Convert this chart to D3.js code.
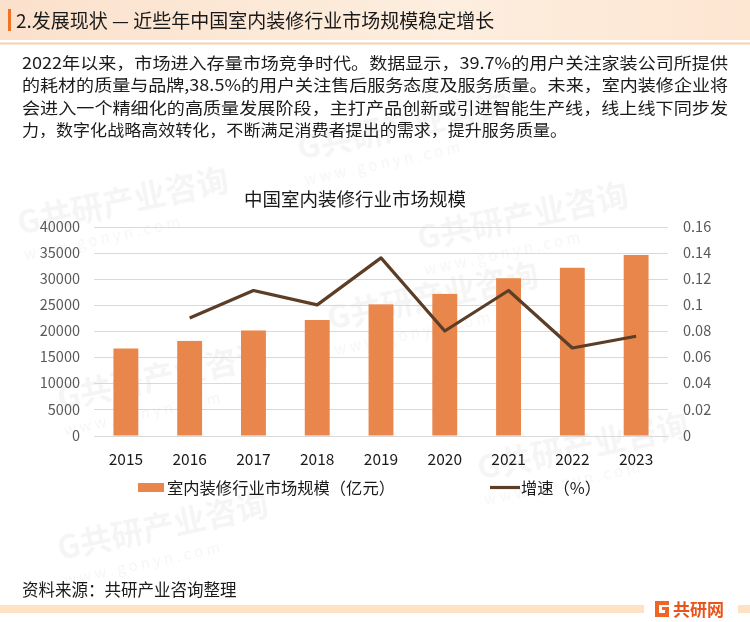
<!DOCTYPE html>
<html><head><meta charset="utf-8">
<script src="https://cdn.jsdelivr.net/npm/d3@7"></script>
<style>
body{margin:0;padding:0;background:#fff;}
svg{display:block;font-family:"Microsoft YaHei","Noto Sans CJK SC",sans-serif;}
</style></head>
<body>
<script>
const years = ["2015","2016","2017","2018","2019","2020","2021","2022","2023"];
const marketSize = [16650, 18100, 20100, 22100, 25100, 27100, 30100, 32100, 34550];
const growth = [null, 0.090, 0.111, 0.100, 0.136, 0.080, 0.111, 0.067, 0.076];
const leftTicks = [0,5000,10000,15000,20000,25000,30000,35000,40000];
const rightTicks = [0,0.02,0.04,0.06,0.08,0.1,0.12,0.14,0.16];
const titleText = "2.发展现状 — 近些年中国室内装修行业市场规模稳定增长";
const paragraph = [
  "2022年以来，市场进入存量市场竞争时代。数据显示，39.7%的用户关注家装公司所提供",
  "的耗材的质量与品牌,38.5%的用户关注售后服务态度及服务质量。未来，室内装修企业将",
  "会进入一个精细化的高质量发展阶段，主打产品创新或引进智能生产线，线上线下同步发",
  "力，数字化战略高效转化，不断满足消费者提出的需求，提升服务质量。"
];
const chartTitle = "中国室内装修行业市场规模";
const legendBar = "室内装修行业市场规模（亿元）";
const legendLine = "增速（%）";
const sourceText = "资料来源：共研产业咨询整理";

const W = 750, H = 622;
const svg = d3.select("body").append("svg").attr("width", W).attr("height", H);
const defs = svg.append("defs");
const hg = defs.append("linearGradient").attr("id","hg").attr("x1","0").attr("x2","1");
hg.append("stop").attr("offset","0").attr("stop-color","#fbe1cc");
hg.append("stop").attr("offset","0.6").attr("stop-color","#fdeedf");
hg.append("stop").attr("offset","1").attr("stop-color","#fde6d2");

// watermarks (kept inside the canvas)
const wm = svg.append("g").attr("opacity",0.04);
const wmPos = [[20,235],[300,160],[60,410],[330,330],[480,480],[60,560],[420,250]];
wmPos.forEach(([x,y])=>{
  const g = wm.append("g").attr("transform",`translate(${x},${y}) rotate(-12)`);
  g.append("text").text("G共研产业咨询").attr("font-size",32).attr("font-weight","bold").attr("fill","#000");
  g.append("text").text("w w w . g o n y n . c o m").attr("y",26).attr("font-size",15).attr("fill","#000");
});

// header
svg.append("rect").attr("x",0).attr("y",0).attr("width",W).attr("height",40).attr("fill","url(#hg)");
svg.append("rect").attr("x",0).attr("y",42.5).attr("width",W).attr("height",2).attr("fill","#fbd2ad");
svg.append("rect").attr("x",8).attr("y",9).attr("width",3).attr("height",22).attr("fill","#ee7326");
svg.append("text").attr("x",16).attr("y",27.5).attr("font-size",19).attr("fill","#1a1a1a").text(titleText);

// paragraph
const pLens = [706, 706, 706, 545];
paragraph.forEach((t,i)=>{
  svg.append("text").attr("x",22).attr("y",69 + i*22.3).attr("font-size",16.3).attr("fill","#1a1a1a")
    .attr("textLength", pLens[i]).attr("lengthAdjust","spacingAndGlyphs").text(t);
});

// chart
const x0 = 94, x1 = 668, yTop = 226.5, yBot = 435.5;
const x = d3.scaleBand().domain(years).range([x0,x1]).paddingInner(0.61).paddingOuter(0.305);
const yL = d3.scaleLinear().domain([0,40000]).range([yBot,yTop]);
const yR = d3.scaleLinear().domain([0,0.16]).range([yBot,yTop]);

svg.append("text").attr("x",355).attr("y",206).attr("text-anchor","middle").attr("font-size",18.5).attr("fill","#1a1a1a").text(chartTitle);

const grid = svg.append("g");
grid.selectAll("line").data(leftTicks).join("line")
  .attr("x1",x0).attr("x2",x1).attr("y1",d=>Math.round(yL(d))+0.5).attr("y2",d=>Math.round(yL(d))+0.5)
  .attr("stroke","#d9d9d9").attr("stroke-width",1);

const axL = svg.append("g").attr("transform",`translate(${x0-14},0)`)
  .call(d3.axisLeft(yL).tickValues(leftTicks).tickSize(0).tickPadding(0).tickFormat(d3.format("d")));
axL.select(".domain").remove();
axL.selectAll("text").attr("font-size",14.5).attr("fill","#595959").attr("font-family","'Microsoft YaHei','Noto Sans CJK SC',sans-serif");

const axR = svg.append("g").attr("transform",`translate(${x1+15},0)`)
  .call(d3.axisRight(yR).tickValues(rightTicks).tickSize(0).tickPadding(0).tickFormat(d=>d===0?"0":String(+d.toFixed(2))));
axR.select(".domain").remove();
axR.selectAll("text").attr("font-size",14.5).attr("fill","#595959").attr("font-family","'Microsoft YaHei','Noto Sans CJK SC',sans-serif");

svg.append("g").selectAll("rect").data(years).join("rect")
  .attr("x",d=>x(d)).attr("width",x.bandwidth())
  .attr("y",(d,i)=>yL(marketSize[i])).attr("height",(d,i)=>yBot-yL(marketSize[i]))
  .attr("fill","#e8864b");

const axB = svg.append("g").attr("transform",`translate(0,${yBot})`)
  .call(d3.axisBottom(x).tickSize(0).tickPadding(18));
axB.select(".domain").remove();
axB.selectAll("text").attr("font-size",15.5).attr("fill","#1a1a1a").attr("font-family","'Microsoft YaHei','Noto Sans CJK SC',sans-serif");

const lineData = years.map((y,i)=>({y, v:growth[i]})).filter(d=>d.v!==null);
svg.append("path").datum(lineData)
  .attr("d", d3.line().x(d=>x(d.y)+x.bandwidth()/2).y(d=>yR(d.v)))
  .attr("fill","none").attr("stroke","#5c3d26").attr("stroke-width",3.2).attr("stroke-linejoin","round");

// legend
svg.append("rect").attr("x",138).attr("y",483).attr("width",26).attr("height",9).attr("fill","#e8864b");
svg.append("text").attr("x",167).attr("y",494).attr("font-size",16.3).attr("fill","#1a1a1a").text(legendBar);
svg.append("line").attr("x1",490).attr("x2",520).attr("y1",487.5).attr("y2",487.5).attr("stroke","#5c3d26").attr("stroke-width",3.2);
svg.append("text").attr("x",521).attr("y",494).attr("font-size",16.3).attr("fill","#1a1a1a").text(legendLine);

// footer
svg.append("text").attr("x",22).attr("y",596).attr("font-size",16.5).attr("fill","#1a1a1a").text(sourceText);
svg.append("rect").attr("x",0).attr("y",605).attr("width",644).attr("height",8).attr("fill","#fde2c4");
svg.append("rect").attr("x",738).attr("y",605).attr("width",12).attr("height",8).attr("fill","#fde2c4");
// logo
const lg = svg.append("g").attr("transform","translate(655,601)");
lg.append("path").attr("d","M0,0 H14 V4 H4 V12 H10 V9 H7 V6 H14 V16 H0 Z").attr("fill","#f06424");
svg.append("text").attr("x",673).attr("y",616).attr("font-size",17).attr("font-weight","bold").attr("fill","#e8541c").text("共研网");
</script>
</body></html>
